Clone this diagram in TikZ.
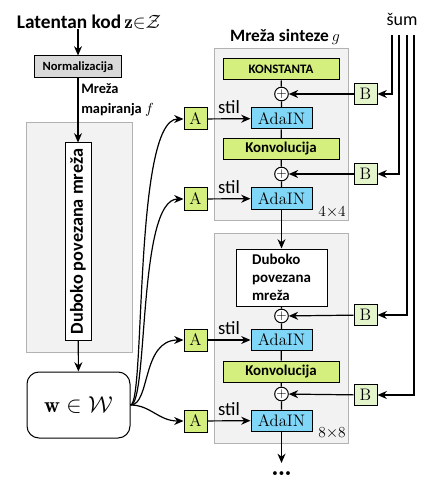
\documentclass[tikz,border=0pt]{standalone}
\usepackage{fontspec}
\newfontfamily\calibri{Carlito}
\usetikzlibrary{arrows.meta}
\definecolor{greencol}{RGB}{213,239,126}
\definecolor{adacol}{RGB}{128,214,247}
\definecolor{bcol}{RGB}{228,245,204}
\begin{document}
\begin{tikzpicture}[x=0.75pt,y=0.75pt,yscale=-1,xscale=1,
  every node/.style={inner sep=0pt},
  arr/.style={-{Stealth[length=7pt,width=6pt]},line width=0.9pt},
  line/.style={line width=0.9pt},
  panel/.style={draw=gray!60,fill=gray!10,line width=0.75pt},
  serifbox/.style={draw,line width=0.75pt,font=\fontsize{12.5}{14}\selectfont},
  abox/.style={serifbox,fill=greencol,minimum width=17.25pt,minimum height=16.5pt},
  bbox/.style={serifbox,fill=bcol,minimum width=17.25pt,minimum height=15.75pt},
  adabox/.style={serifbox,fill=adacol,minimum width=45.75pt,minimum height=15.75pt},
  greenbox/.style={draw,line width=0.75pt,fill=greencol,minimum width=87pt,minimum height=15.75pt},
  plus/.style={circle,draw,fill=white,line width=0.75pt,minimum size=10pt,font=\fontsize{10}{10}\selectfont},
  stil/.style={above=3.5pt,font=\calibri\fontsize{14}{16}\selectfont},
  res/.style={font=\fontsize{11.5}{13}\selectfont}]
\useasboundingbox (0,0) rectangle (433,488);

%Shape: Rectangle (mapping network)
\node[panel,minimum width=79.5pt,minimum height=171.75pt] (mapping) at (79,237.5) {};
%Shape: Rectangle (synthesis blocks)
\node[panel,minimum width=100.5pt,minimum height=128.25pt] (blockA) at (281,134.5) {};
\node[panel,minimum width=100.5pt,minimum height=157.5pt] (blockB) at (281,338) {};

% Text Node
\node[font=\calibri\bfseries\fontsize{14.5}{18}\selectfont] (latent) at (89,22) {Latentan kod\,$\mathbf{z}{\in}\mathcal{Z}$};
\node[draw,fill=gray!30,line width=0.75pt,minimum width=65.25pt,minimum height=16.5pt,font=\calibri\bfseries\fontsize{9.4}{11}\selectfont] (norm) at (78,67) {Normalizacija};
\node[anchor=west,align=left,font=\calibri\bfseries\fontsize{10.8}{15}\selectfont] (maplabel) at (81,100) {Mreža\\mapiranja $f$};
\node[draw,fill=white,rotate=90,line width=0.75pt,minimum width=147.75pt,minimum height=19.5pt,font=\calibri\bfseries\fontsize{13.7}{16}\selectfont] (fc) at (78,241.5) {Duboko povezana mreža};
\node[draw,rounded corners=9pt,line width=0.75pt,minimum width=77.25pt,minimum height=49.5pt,font=\fontsize{16.5}{20}\selectfont] (w) at (78.5,405) {$\mathbf{w}\in\mathcal{W}$};

%Straight Lines
\draw[arr] (latent.south -| norm.north) -- (norm);
\draw[arr] (norm) -- (fc);
\draw[arr] (fc) -- (w);

% Text Node
\node[font=\calibri\bfseries\fontsize{13}{16}\selectfont] (synlabel) at (285,37) {Mreža sinteze\,$g$};
\node[font=\calibri\fontsize{13.5}{16}\selectfont] (noise) at (402,19) {šum};
\coordinate (n1) at (392,35);
\coordinate (n2) at (399,35);
\coordinate (n3) at (407,35);
\coordinate (n4) at (414,35);

% block 4x4
\node[greenbox,font=\calibri\bfseries\fontsize{9.7}{11}\selectfont] (konst) at (281,69.5) {KONSTANTA};
\node[plus] (p1) at (281.5,94) {$+$};
\node[adabox] (ada1) at (281.5,118.5) {AdaIN};
\node[greenbox,font=\calibri\bfseries\fontsize{11.2}{13}\selectfont] (conv1) at (281,149) {Konvolucija};
\node[plus] (p2) at (281.5,174) {$+$};
\node[adabox] (ada2) at (281.5,198.5) {AdaIN};
\node[res] (resA) at (332,212) {4$\times$4};

% block 8x8
\node[draw,fill=white,line width=0.75pt,minimum width=68.25pt,minimum height=42.75pt,align=left,font=\calibri\bfseries\fontsize{11.2}{13.5}\selectfont] (fcg) at (281.5,277.5) {Duboko\\povezana\\mreža};
\node[plus] (p3) at (281.5,316) {$+$};
\node[adabox] (ada3) at (281.5,340) {AdaIN};
\node[greenbox,font=\calibri\bfseries\fontsize{11.2}{13}\selectfont] (conv2) at (281,371.5) {Konvolucija};
\node[plus] (p4) at (281.5,394) {$+$};
\node[adabox] (ada4) at (281.5,420.5) {AdaIN};
\node[res] (resB) at (332,433) {8$\times$8};
\coordinate (next) at (281.5,463);
\node[font=\bfseries\fontsize{20}{22}\selectfont] (dots) at (281.5,474) {\ldots};

% A and B
\node[abox] (a1) at (195.5,119) {A};
\node[abox] (a2) at (195.5,199) {A};
\node[abox] (a3) at (195.5,340) {A};
\node[abox] (a4) at (195.5,421) {A};
\node[bbox] (b1) at (365.5,94) {B};
\node[bbox] (b2) at (365.5,174) {B};
\node[bbox] (b3) at (365.5,315) {B};
\node[bbox] (b4) at (365.5,395) {B};

%Straight Lines
\draw[line] (konst) -- (p1) -- (ada1) -- (conv1) -- (p2) -- (ada2);
\draw[arr] (ada2) -- (fcg);
\draw[line] (fcg) -- (p3) -- (ada3) -- (conv2) -- (p4) -- (ada4);
\draw[arr] (ada4) -- (next);

\draw[arr] (a1) -- node[stil] {stil} (ada1);
\draw[arr] (a2) -- node[stil] {stil} (ada2);
\draw[arr] (a3) -- node[stil] {stil} (ada3);
\draw[arr] (a4) -- node[stil] {stil} (ada4);

\draw[arr] (b1) -- (p1);
\draw[arr] (b2) -- (p2);
\draw[arr] (b3) -- (p3);
\draw[arr] (b4) -- (p4);

\draw[arr] (n1) |- (b1);
\draw[arr] (n2) |- (b2);
\draw[arr] (n3) |- (b3);
\draw[arr] (n4) |- (b4);

%Curves
\draw[arr] (w.east) .. controls +(15,0) and +(-50,0) .. (a1.west);
\draw[arr] (w.east) .. controls +(18,0) and +(-46,0) .. (a2.west);
\draw[arr] (w.east) .. controls +(20,0) and +(-42,0) .. (a3.west);
\draw[arr] (w.east) .. controls +(20,0) and +(-25,0) .. (a4.west);

\end{tikzpicture}
\end{document}
